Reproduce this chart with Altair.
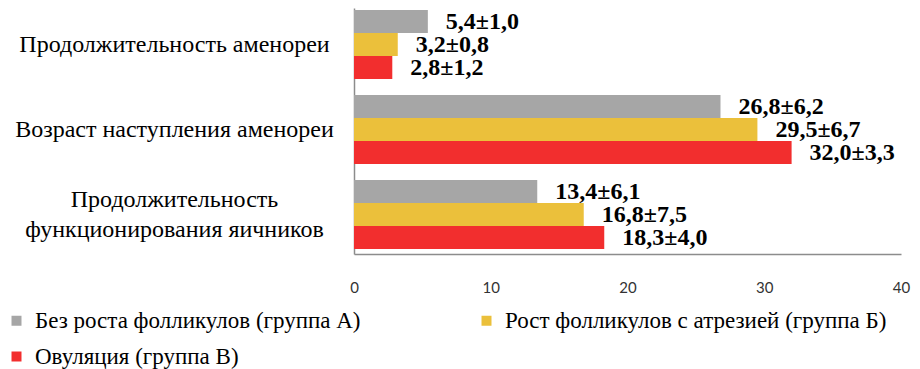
import altair as alt
import pandas as pd

categories = [
    "Продолжительность аменореи",
    "Возраст наступления аменореи",
    "Продолжительность\nфункционирования яичников",
]
series = [
    "Без роста фолликулов (группа А)",
    "Рост фолликулов с атрезией (группа Б)",
    "Овуляция (группа В)",
]
values_a = [5.4, 26.8, 13.4]
values_b = [3.2, 29.5, 16.8]
values_v = [2.8, 32.0, 18.3]
labels_a = ["5,4±1,0", "26,8±6,2", "13,4±6,1"]
labels_b = ["3,2±0,8", "29,5±6,7", "16,8±7,5"]
labels_v = ["2,8±1,2", "32,0±3,3", "18,3±4,0"]
x_ticks = [0, 10, 20, 30, 40]
colors = ["#A6A6A6", "#EBC03B", "#F22E2E"]

rows = []
for s, vals, labs in zip(series, [values_a, values_b, values_v], [labels_a, labels_b, labels_v]):
    for c, v, l in zip(categories, vals, labs):
        rows.append({"category": c, "series": s, "value": v, "label": l})
df = pd.DataFrame(rows)

y_enc = alt.Y(
    "category:N",
    sort=categories,
    scale=alt.Scale(paddingInner=0.188, paddingOuter=0.041, align=0.3),
    axis=alt.Axis(
        title=None,
        ticks=False,
        domainColor="#8C8C8C",
        domainWidth=1.5,
        labelFont="Liberation Serif",
        labelFontSize=24,
        labelColor="#000000",
        labelAlign="center",
        labelBaseline="middle",
        labelPadding=180,
        labelLineHeight=30,
        labelLimit=0,
        labelOffset={"condition": {"test": "indexof(datum.value, '\\n') >= 0", "value": -15}, "value": 0},
        labelExpr="split(datum.label, '\\n')",
    ),
)
x_enc = alt.X(
    "value:Q",
    scale=alt.Scale(domain=[0, 40], nice=False),
    axis=alt.Axis(
        title=None,
        values=x_ticks,
        ticks=False,
        grid=False,
        domainColor="#8C8C8C",
        domainWidth=1.5,
        labelFont="Lato",
        labelFontSize=15,
        labelColor="#333333",
        labelPadding=26,
        labelFlush=False,
    ),
)
yoff = alt.YOffset("series:N", sort=series, scale=alt.Scale(paddingInner=0, paddingOuter=0))

bars = alt.Chart(df).mark_bar().encode(
    y=y_enc,
    x=x_enc,
    yOffset=yoff,
    color=alt.Color(
        "series:N",
        sort=series,
        scale=alt.Scale(domain=series, range=colors),
        legend=alt.Legend(
            title=None,
            orient="none",
            direction="horizontal",
            legendX=-349,
            legendY=301,
            columns=2,
            symbolType="square",
            symbolSize=100,
            symbolStrokeWidth=0,
            labelFont="Liberation Serif",
            labelFontSize=23,
            labelColor="#000000",
            labelOffset=7,
            labelLimit=0,
            rowPadding=12,
            columnPadding=114,
            padding=0,
        ),
    ),
)

text = alt.Chart(df).mark_text(
    align="left",
    baseline="middle",
    dx=18,
    font="Liberation Serif",
    fontSize=24,
    fontWeight="bold",
    color="#000000",
).encode(
    y=alt.Y("category:N", sort=categories),
    x="value:Q",
    yOffset=alt.YOffset("series:N", sort=series),
    text="label:N",
)

chart = (
    alt.layer(bars, text)
    .properties(
        width=547,
        height=246,
        padding={"left": 346, "top": 0, "right": 11, "bottom": 115},
        autosize=alt.AutoSizeParams(type="none"),
        background="#FFFFFF",
    )
    .configure_view(stroke=None)
)

chart.save("out.html", embed_options={"renderer": "svg", "actions": False})
